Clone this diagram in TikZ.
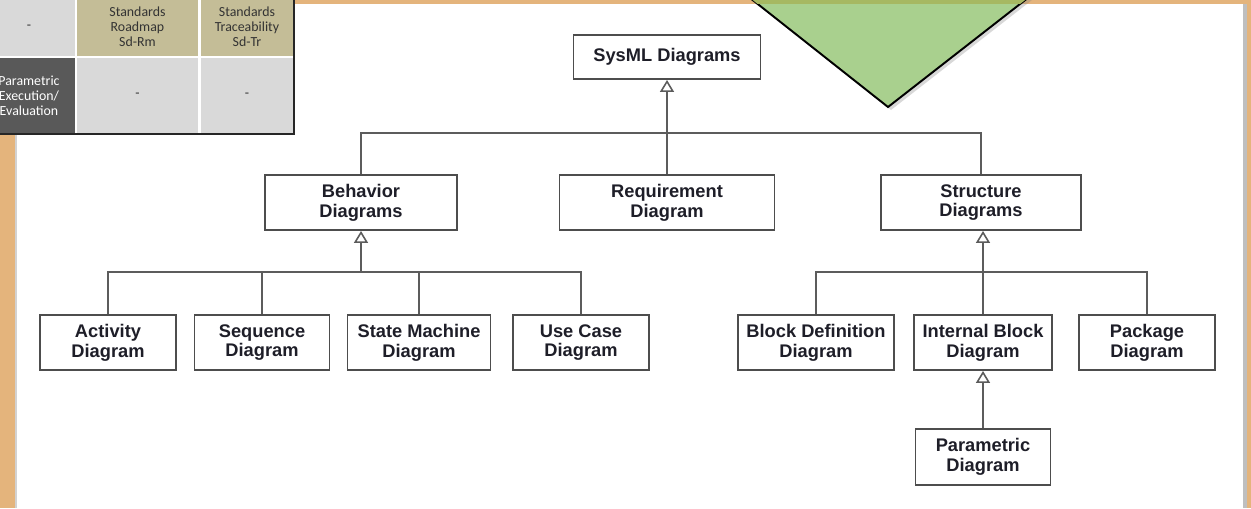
\documentclass[tikz,border=0pt]{standalone}
\usepackage{fontspec}
\setmainfont{Liberation Sans}
\newfontfamily\tablefont{Carlito}
\usetikzlibrary{arrows.meta,shadows}

\definecolor{band}{HTML}{E4B47C}
\definecolor{rim}{HTML}{D2D2D2}
\definecolor{boxline}{HTML}{4D4D4D}
\definecolor{wire}{HTML}{5C5C5C}
\definecolor{ink}{HTML}{1E1E28}
\definecolor{tan}{HTML}{C4BD97}
\definecolor{lgray}{HTML}{D9D9D9}
\definecolor{dgray}{HTML}{595959}
\definecolor{leaf}{HTML}{A9D08E}
\definecolor{olive}{HTML}{A6B862}

\begin{document}
\begin{tikzpicture}[x=0.02cm,y=-0.02cm,
        diag/.style={draw=boxline, line width=1.1pt, fill=white, align=center,
            inner sep=0pt, text=ink, minimum height=1.1cm,
            font=\bfseries\fontsize{10.4}{11.3}\selectfont},
        conn/.style={draw=wire, line width=0.9pt},
        gen/.style={conn, -{Triangle[open, length=0.24cm, width=0.28cm]}},
        cell/.style={inner sep=0pt, align=center, text=black!80,
            font=\tablefont\fontsize{7.9}{8.6}\selectfont}]

    \useasboundingbox (0,0) rectangle (1251,508);
    \clip (0,0) rectangle (1251,508);

    % slide frame
    \fill[band] (0,0) rectangle (1251,508);
    \fill[white] (17,3.5) rectangle (1247,508);
    \fill[rim] (15,3.5) rectangle (17,508);
    \fill[black!25] (1243,3.5) rectangle (1247,508);

    % table corner
    \fill[black!85] (-20,-5) rectangle (295,135);
    \fill[white] (-20,-5) rectangle (293,133);
    \begin{scope}[every node/.style={cell}]
        \node[fill=lgray, minimum width=1.84cm, minimum height=1.16cm] (c11) at (29,27) {-};
        \node[fill=tan, minimum width=2.42cm, minimum height=1.16cm] (c12) at (137.5,27) {Standards\\Roadmap\\Sd-Rm};
        \node[fill=tan, minimum width=1.84cm, minimum height=1.16cm] (c13) at (247,27) {Standards\\Traceability\\Sd-Tr};
        \node[fill=dgray, text=white, minimum width=1.84cm, minimum height=1.5cm] (c21) at (29,95.5) {Parametric\\Execution/\\Evaluation};
        \node[fill=lgray, minimum width=2.42cm, minimum height=1.5cm] (c22) at (137.5,95.5) {-};
        \node[fill=lgray, minimum width=1.84cm, minimum height=1.5cm] (c23) at (247,95.5) {-};
    \end{scope}

    % green pointer
    \coordinate (tl) at (740,-10);
    \coordinate (tr) at (1038,-10);
    \coordinate (tip) at (888,107);
    \filldraw[fill=leaf, draw=black, line width=1.1pt,
        drop shadow={opacity=0.3, shadow xshift=0.06cm, shadow yshift=-0.06cm}]
        (tl) -- (tip) -- (tr) -- cycle;
    \begin{scope}
        \clip (tl) -- (tip) -- (tr) -- cycle;
        \fill[olive] (700,-10) rectangle (1100,3.5);
    \end{scope}

    % diagram taxonomy
    \node[diag, minimum width=3.74cm, minimum height=0.88cm] (sysml) at (667,57) {SysML Diagrams};

    \node[diag, minimum width=3.84cm] (behav) at (361,202.5) {Behavior\\Diagrams};
    \node[diag, minimum width=4.3cm] (reqd) at (667,202.5) {Requirement\\Diagram};
    \node[diag, minimum width=4cm] (struct) at (981,202.5) {Structure\\Diagrams};

    \node[diag, minimum width=2.72cm] (act) at (108,342.5) {Activity\\Diagram};
    \node[diag, minimum width=2.7cm] (seq) at (262,342.5) {Sequence\\Diagram};
    \node[diag, minimum width=2.86cm] (stm) at (419,342.5) {State Machine\\Diagram};
    \node[diag, minimum width=2.72cm] (usec) at (581,342.5) {Use Case\\Diagram};

    \node[diag, minimum width=3.12cm] (bdd) at (816,342.5) {Block Definition\\Diagram};
    \node[diag, minimum width=2.76cm] (ibd) at (983,342.5) {Internal Block\\Diagram};
    \node[diag, minimum width=2.72cm] (pkg) at (1147,342.5) {Package\\Diagram};
    \node[diag, minimum width=2.7cm, minimum height=1.12cm] (par) at (983,457) {Parametric\\Diagram};

    \coordinate (topbar) at (667,133);
    \draw[conn] (behav.north) |- (topbar) -| (struct.north);
    \draw[gen] (reqd.north) -- (sysml.south);

    \coordinate (behbar) at (361,272);
    \draw[conn] (act.north) |- (behbar) -| (usec.north);
    \draw[conn] (seq.north) -- (seq.north |- behbar);
    \draw[conn] (stm.north) -- (stm.north |- behbar);
    \draw[gen] (behbar) -- (behav.south);

    \coordinate (strbar) at (983,272);
    \draw[conn] (bdd.north) |- (strbar) -| (pkg.north);
    \draw[conn] (ibd.north) -- (ibd.north |- strbar);
    \draw[gen] (strbar) -- (struct.south -| strbar);
    \draw[gen] (par.north) -- (ibd.south);

\end{tikzpicture}
\end{document}
